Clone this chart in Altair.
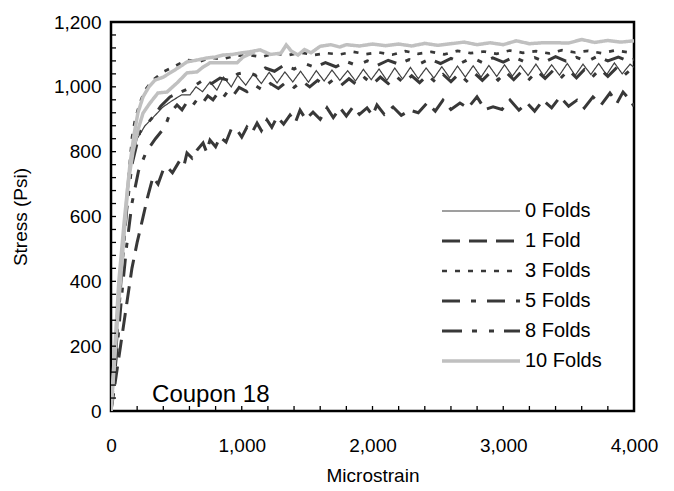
import altair as alt
import pandas as pd

series_names = ["0 Folds", "1 Fold", "3 Folds", "5 Folds", "8 Folds", "10 Folds"]
series_colors = ["#404040", "#383838", "#383838", "#383838", "#383838", "#c0c0c0"]
series_dashes = [[1, 0], [18, 9], [5, 8], [18, 11, 5, 11], [20, 10, 5, 12, 5, 10], [1, 0]]
series_widths = [1.2, 3, 2.7, 3, 3, 3.5]

x_labels = [0, 1000, 2000, 3000, 4000]
y_labels = [0, 200, 400, 600, 800, 1000, 1200]
x_minor = list(range(200, 4000, 200))
y_minor = list(range(40, 1200, 40))

# 0 Folds
f0_x = [0, 25, 55, 85, 115, 150, 200, 260, 321, 398, 474, 540, 604, 650, 700, 757, 810, 860, 920, 970,
        1030, 1090, 1150, 1210, 1270, 1330, 1390, 1450, 1510, 1570, 1630, 1690, 1750, 1810, 1870, 1930,
        1990, 2050, 2110, 2170, 2230, 2290, 2350, 2410, 2470, 2530, 2590, 2650, 2710, 2770, 2830, 2890,
        2950, 3010, 3070, 3130, 3190, 3250, 3310, 3370, 3430, 3490, 3550, 3610, 3670, 3730, 3790, 3850,
        3910, 3970, 4000]
f0_y = [0, 140, 300, 470, 620, 750, 840, 880, 905, 938, 959, 975, 975, 1000, 985, 1015, 990, 1030, 1000, 1035,
        1005, 1040, 1010, 1045, 1012, 1046, 1015, 1048, 1014, 1050, 1018, 1052, 1020, 1050, 1018, 1054,
        1022, 1055, 1020, 1058, 1024, 1060, 1025, 1058, 1027, 1062, 1028, 1064, 1030, 1065, 1030, 1066,
        1032, 1068, 1033, 1066, 1035, 1070, 1034, 1068, 1036, 1072, 1035, 1070, 1038, 1072, 1037, 1074,
        1040, 1070, 1060]

# 1 Fold
f1_x = [0, 40, 80, 120, 160, 200, 245, 280, 321, 360, 400, 428, 470, 528, 560, 581, 620, 658, 704, 730,
        757, 800, 834, 880, 920, 964, 1000, 1040, 1080, 1117, 1150, 1193, 1230, 1270, 1320, 1369, 1410,
        1446, 1490, 1545, 1600, 1652, 1700, 1752, 1800, 1851, 1900, 1958, 2000, 2034, 2090, 2157, 2220,
        2287, 2350, 2417, 2480, 2539, 2600, 2669, 2730, 2799, 2860, 2922, 2990, 3052, 3120, 3182, 3240,
        3304, 3370, 3434, 3500, 3564, 3620, 3686, 3750, 3816, 3870, 3916, 3969, 4000]
f1_y = [0, 110, 220, 330, 440, 520, 598, 660, 722, 700, 745, 753, 735, 774, 760, 796, 780, 805, 827, 800,
        836, 815, 845, 830, 870, 867, 845, 876, 860, 888, 865, 898, 875, 907, 885, 913, 890,
        928, 900, 922, 900, 935, 905, 935, 910, 938, 915, 935, 912, 944, 915, 938, 912,
        928, 920, 950, 925, 959, 930, 950, 935, 969, 930, 938, 930, 959, 928, 950, 925,
        959, 935, 969, 940, 959, 935, 969, 945, 981, 950, 984, 959, 940]

# 3 Folds
f3_x = [0, 30, 60, 100, 130, 161, 184, 220, 260, 321, 398, 480, 581, 680, 760, 850, 950, 1060, 1150,
        1250, 1350, 1450, 1550, 1650, 1750, 1850, 1950, 2050, 2150, 2250, 2350, 2450, 2550, 2650, 2750,
        2850, 2950, 3050, 3150, 3250, 3350, 3450, 3550, 3650, 3750, 3850, 3950, 4000]
f3_y = [0, 170, 340, 560, 700, 845, 898, 950, 990, 1021, 1046, 1062, 1083, 1078, 1090, 1085, 1096, 1098, 1092,
        1103, 1097, 1106, 1098, 1104, 1100, 1108, 1101, 1106, 1099, 1110, 1102, 1108, 1100, 1111, 1104,
        1109, 1102, 1112, 1105, 1110, 1103, 1113, 1106, 1111, 1104, 1112, 1107, 1110]

# 5 Folds
f5_x = [0, 25, 55, 85, 120, 160, 210, 270, 340, 413, 451, 505, 543, 581, 620, 660, 700, 740, 780, 820,
        860, 900, 940, 980, 1040, 1100, 1160, 1220, 1280, 1340, 1400, 1460, 1520, 1580, 1640, 1700, 1760,
        1820, 1880, 1940, 2000, 2060, 2120, 2180, 2240, 2300, 2360, 2420, 2480, 2540, 2600, 2660, 2720,
        2780, 2840, 2900, 2960, 3020, 3080, 3140, 3200, 3260, 3320, 3380, 3440, 3500, 3560, 3620, 3680,
        3740, 3800, 3860, 3920, 3980, 4000]
f5_y = [0, 100, 230, 370, 510, 640, 740, 800, 840, 876, 919, 944, 929, 953, 940, 962, 950, 972, 960, 982,
        968, 990, 976, 998, 985, 1005, 990, 1010, 995, 1015, 998, 1018, 1000, 1020, 1003, 1022, 1005,
        1025, 1006, 1028, 1008, 1030, 1010, 1032, 1012, 1034, 1013, 1036, 1015, 1038, 1016, 1040, 1018,
        1042, 1020, 1044, 1021, 1046, 1022, 1047, 1024, 1048, 1026, 1050, 1027, 1052, 1028, 1053, 1030,
        1055, 1032, 1056, 1034, 1055, 1045]

# 8 Folds
f8_x = [0, 25, 55, 85, 120, 160, 220, 321, 380, 451, 540, 627, 704, 770, 834, 900, 970, 1040, 1110, 1180,
        1250, 1320, 1400, 1480, 1560, 1640, 1720, 1800, 1880, 1960, 2040, 2120, 2200, 2280, 2360, 2440,
        2520, 2600, 2680, 2760, 2840, 2920, 3000, 3080, 3160, 3240, 3320, 3400, 3480, 3560, 3640, 3720,
        3800, 3880, 3960, 4000]
f8_y = [0, 120, 280, 450, 620, 760, 860, 907, 940, 969, 985, 1000, 1021, 1010, 1027, 1020, 1040, 1046, 1035, 1058,
        1048, 1066, 1055, 1072, 1060, 1075, 1062, 1078, 1066, 1080, 1067, 1082, 1070, 1084, 1071, 1086,
        1072, 1088, 1074, 1090, 1075, 1089, 1076, 1092, 1078, 1090, 1077, 1093, 1079, 1091, 1078, 1094,
        1080, 1092, 1079, 1085]

# 10 Folds (two branches that merge)
f10a_x = [0, 30, 60, 100, 145, 175, 206, 245, 290, 337, 400, 451, 520, 581, 650, 734, 800, 857, 930, 987,
          1060, 1140, 1220, 1300, 1340, 1380, 1430, 1480, 1530, 1600, 1680, 1750, 1800, 1900, 2000, 2100,
          2200, 2300, 2400, 2500, 2600, 2700, 2800, 2900, 3000, 3100, 3200, 3300, 3400, 3500, 3600, 3700,
          3800, 3900, 4000]
f10a_y = [0, 200, 400, 580, 760, 850, 920, 969, 1000, 1021, 1030, 1043, 1060, 1077, 1082, 1089, 1092, 1098, 1100, 1104,
          1108, 1114, 1100, 1104, 1129, 1110, 1098, 1115, 1105, 1125, 1130, 1123, 1130, 1126, 1132, 1127,
          1132, 1126, 1134, 1128, 1133, 1138, 1130, 1136, 1130, 1142, 1133, 1136, 1136, 1135, 1146, 1137,
          1143, 1138, 1142]
f10b_x = [0, 30, 60, 95, 130, 168, 206, 245, 298, 359, 428, 505, 581, 658, 704, 757, 857, 964, 1010, 1100]
f10b_y = [0, 170, 340, 520, 700, 800, 867, 919, 950, 981, 984, 1012, 1043, 1046, 1061, 1074, 1074, 1074, 1092, 1108]

segments = [
    ("0 Folds", f0_x, f0_y),
    ("1 Fold", f1_x, f1_y),
    ("3 Folds", f3_x, f3_y),
    ("5 Folds", f5_x, f5_y),
    ("8 Folds", f8_x, f8_y),
    ("10 Folds", f10a_x, f10a_y),
    ("10 Folds", f10b_x, f10b_y),
]

rows = []
for k, (name, xs, ys) in enumerate(segments):
    for i, (xv, yv) in enumerate(zip(xs, ys)):
        rows.append({"series": name, "seg": k, "i": i, "x": xv, "y": yv})
df = pd.DataFrame(rows)

FONT = "Liberation Sans"

legend = alt.Legend(
    title=None, orient="none", legendX=329, legendY=174, symbolType="stroke",
    symbolSize=6084, clipHeight=30, rowPadding=0, padding=0, labelFontSize=20,
    labelFont=FONT, labelColor="black", labelOffset=3, labelLimit=200,
)

x_axis = alt.Axis(values=x_labels, labelExpr="format(datum.value, ',')", title="Microstrain",
                  grid=False, ticks=False, tickSize=0, domain=False, labelPadding=25,
                  titlePadding=11, labelFlush=False, labelOverlap=False)
y_axis = alt.Axis(values=y_labels, labelExpr="format(datum.value, ',')", title="Stress (Psi)",
                  grid=False, ticks=False, tickSize=0, domain=False, labelPadding=10,
                  titlePadding=23, labelFlush=False, labelOverlap=False)
x_scale = alt.Scale(domain=[0, 4000], nice=False, zero=False)
y_scale = alt.Scale(domain=[0, 1200], nice=False)

lines = alt.Chart(df).mark_line(clip=True).encode(
    x=alt.X("x:Q", scale=x_scale, axis=x_axis),
    y=alt.Y("y:Q", scale=y_scale, axis=y_axis),
    color=alt.Color("series:N", scale=alt.Scale(domain=series_names, range=series_colors), legend=legend),
    strokeDash=alt.StrokeDash("series:N", scale=alt.Scale(domain=series_names, range=series_dashes), legend=legend),
    strokeWidth=alt.StrokeWidth("series:N", scale=alt.Scale(type="ordinal", domain=series_names, range=series_widths), legend=legend),
    detail="seg:N",
    order="i:Q",
)

ytick_df = pd.DataFrame({"y": y_minor})
yticks = alt.Chart(ytick_df).mark_rule(color="black", strokeWidth=1.3).encode(
    y=alt.Y("y:Q", scale=y_scale, axis=y_axis), x=alt.value(0), x2=alt.value(5)
)
xtick_df = pd.DataFrame({"x": x_minor})
xticks = alt.Chart(xtick_df).mark_rule(color="black", strokeWidth=1.3).encode(
    x=alt.X("x:Q", scale=x_scale, axis=x_axis), y=alt.value(389), y2=alt.value(384)
)

label_df = pd.DataFrame({"x": [314], "y": [49], "t": ["Coupon 18"]})
label = alt.Chart(label_df).mark_text(align="left", baseline="middle", fontSize=24, font=FONT,
                                      color="black").encode(
    x=alt.X("x:Q", scale=x_scale, axis=x_axis),
    y=alt.Y("y:Q", scale=y_scale, axis=y_axis),
    text="t:N")

chart = alt.layer(lines, yticks, xticks, label).properties(
    width=523, height=389,
    autosize=alt.AutoSizeParams(type="none"),
    padding={"left": 103, "top": 14, "right": 32, "bottom": 76},
).configure(font=FONT, background="white").configure_view(
    stroke="black", strokeWidth=2.5
).configure_axis(
    labelFontSize=19, titleFontSize=19, labelFont=FONT, titleFont=FONT,
    labelColor="black", titleColor="black", titleFontWeight="normal"
)

chart.save("out.html", embed_options={"renderer": "svg", "actions": False})
